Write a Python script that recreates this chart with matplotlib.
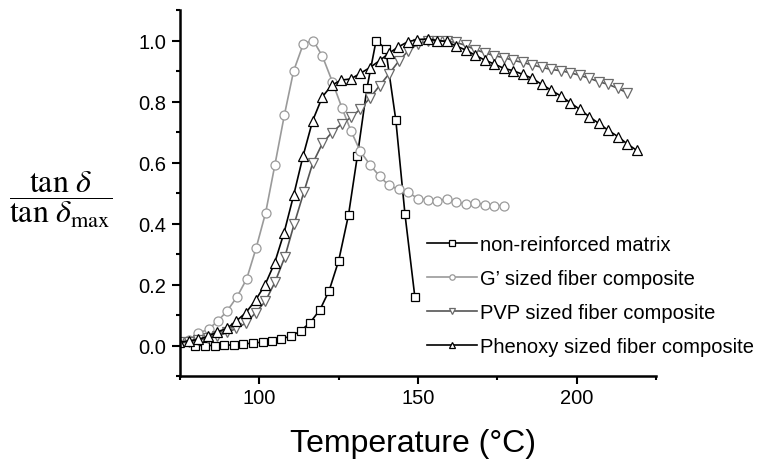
import matplotlib
matplotlib.use("Agg")
import matplotlib.pyplot as plt
from matplotlib.ticker import MultipleLocator

# Datos (tan delta normalizado vs temperatura)
temp_matrix = [79.8, 82.9, 85.9, 88.9, 91.9, 94.9, 98.0, 101.0, 104.0, 106.9, 110.1, 113.0,
               116.0, 119.1, 122.0, 125.0, 128.1, 130.9, 133.9, 136.8, 139.8, 143.0, 145.9, 149.0]
tan_matrix = [0.0, 0.0, 0.0, 0.001, 0.002, 0.005, 0.008, 0.011, 0.016, 0.022, 0.031, 0.048,
              0.075, 0.117, 0.18, 0.278, 0.428, 0.622, 0.843, 1.0, 0.973, 0.74, 0.43, 0.16]

temp_g = [74.7, 77.9, 80.8, 84.0, 86.9, 89.9, 93.0, 96.0, 99.0, 102.0, 104.9, 107.9, 110.8,
          113.9, 117.0, 119.9, 123.0, 126.0, 128.9, 131.8, 134.9, 137.9, 140.8, 143.9, 147.0,
          150.0, 153.0, 156.0, 159.0, 162.0, 165.0, 167.9, 171.0, 174.0, 177.0]
tan_g = [0.01, 0.018, 0.04, 0.054, 0.08, 0.114, 0.16, 0.218, 0.32, 0.436, 0.592, 0.756, 0.90,
         0.99, 1.0, 0.948, 0.865, 0.78, 0.703, 0.637, 0.592, 0.555, 0.525, 0.512, 0.502,
         0.481, 0.478, 0.474, 0.481, 0.47, 0.464, 0.468, 0.462, 0.459, 0.459]

temp_pvp = [74.7, 77.8, 80.8, 83.8, 86.8, 89.9, 92.8, 95.8, 98.9, 101.9, 104.9, 108.0, 111.0,
            114.0, 116.8, 119.9, 122.8, 125.9, 128.9, 131.8, 134.8, 137.9, 140.9, 143.9, 146.9,
            150.0, 153.0, 156.0, 159.0, 162.0, 165.0, 168.0, 171.0, 174.0, 177.0, 180.0, 183.0,
            186.0, 189.0, 192.0, 195.0, 198.0, 201.0, 204.0, 207.0, 210.0, 213.0, 215.8]
tan_pvp = [0.01, 0.013, 0.018, 0.024, 0.03, 0.043, 0.056, 0.074, 0.108, 0.145, 0.207, 0.289,
           0.399, 0.502, 0.597, 0.663, 0.698, 0.726, 0.748, 0.775, 0.811, 0.852, 0.891, 0.932,
           0.966, 0.989, 0.998, 1.0, 0.997, 0.994, 0.984, 0.97, 0.96, 0.95, 0.944, 0.935, 0.928,
           0.92, 0.912, 0.905, 0.901, 0.894, 0.886, 0.876, 0.865, 0.856, 0.843, 0.829]

temp_phen = [74.7, 77.7, 80.8, 83.8, 86.8, 89.8, 92.7, 95.8, 98.9, 101.8, 104.8, 107.8, 110.8,
             113.8, 116.8, 119.9, 122.8, 125.7, 128.8, 131.8, 134.8, 137.9, 140.8, 143.8, 146.8,
             149.8, 153.0, 156.0, 159.0, 162.0, 165.0, 168.0, 171.0, 174.0, 177.0, 180.0, 183.0,
             186.0, 189.0, 192.0, 195.0, 198.0, 201.0, 204.0, 207.0, 210.0, 213.0, 215.8, 218.9]
tan_phen = [0.01, 0.015, 0.02, 0.03, 0.045, 0.056, 0.08, 0.108, 0.15, 0.199, 0.27, 0.37, 0.492,
            0.622, 0.737, 0.816, 0.853, 0.87, 0.874, 0.892, 0.911, 0.934, 0.958, 0.979, 0.996,
            1.003, 1.005, 1.0, 0.997, 0.982, 0.969, 0.952, 0.936, 0.923, 0.909, 0.901, 0.889,
            0.876, 0.856, 0.837, 0.818, 0.796, 0.774, 0.75, 0.728, 0.705, 0.685, 0.662, 0.64]

labels = ["non-reinforced matrix", "G\u2019 sized fiber composite",
          "PVP sized fiber composite", "Phenoxy sized fiber composite"]

plt.rcParams['font.family'] = ['Liberation Sans', 'DejaVu Sans']

fig = plt.figure(figsize=(7.74, 4.6), dpi=100)
ax = fig.add_axes([180 / 774, 1 - 377 / 460, 476 / 774, 366 / 460])

# Series (linea + marcador blanco)
ax.plot(temp_matrix, tan_matrix, color='black', lw=1.2, marker='s', ms=6.3,
        mfc='white', mec='black', mew=0.9, label=labels[0])
ax.plot(temp_g, tan_g, color='#9a9a9a', lw=1.2, marker='o', ms=6.5,
        mfc='white', mec='#9a9a9a', mew=0.9, label=labels[1])
ax.plot(temp_pvp, tan_pvp, color='#555555', lw=1.2, marker='v', ms=7.3,
        mfc='white', mec='#6a6a6a', mew=0.9, label=labels[2])
ax.plot(temp_phen, tan_phen, color='black', lw=1.2, marker='^', ms=7.3,
        mfc='white', mec='black', mew=0.9, label=labels[3])

ax.set_xlim(75, 225)
ax.set_ylim(-0.1, 1.1)
ax.xaxis.set_major_locator(MultipleLocator(50))
ax.xaxis.set_minor_locator(MultipleLocator(25))
ax.yaxis.set_major_locator(MultipleLocator(0.2))
ax.yaxis.set_minor_locator(MultipleLocator(0.1))
ax.yaxis.set_major_formatter(matplotlib.ticker.FormatStrFormatter('%.1f'))

for side in ['top', 'right']:
    ax.spines[side].set_visible(False)
for side in ['left', 'bottom']:
    ax.spines[side].set_linewidth(1.8)

ax.tick_params(which='major', direction='out', length=5.5, width=1.5, labelsize=14.5)
ax.tick_params(which='minor', direction='out', length=3, width=1.5)
ax.tick_params(axis='x', which='major', pad=3)
ax.tick_params(axis='y', which='major', pad=4.5)

# Etiqueta eje x
ax.set_xlabel('Temperature (\u00b0C)', fontsize=23)
ax.xaxis.set_label_coords(233 / 476, -52 / 366)

# Etiqueta eje y como fraccion
fig.text(61 / 774, 1 - 200 / 460, r'$\dfrac{\tan\,\delta}{\tan\,\delta_{\mathrm{max}}}$',
         fontsize=23, math_fontfamily='stix', ha='center', va='center')

# Leyenda
fig.legend(loc='upper left', bbox_to_anchor=(427 / 774, 1 - 236 / 460), frameon=False,
           fontsize=14.5, markerscale=0.6, handlelength=2.5, handletextpad=0.15,
           labelspacing=0.74, borderpad=0, borderaxespad=0)

fig.savefig('out.png', dpi=100)
